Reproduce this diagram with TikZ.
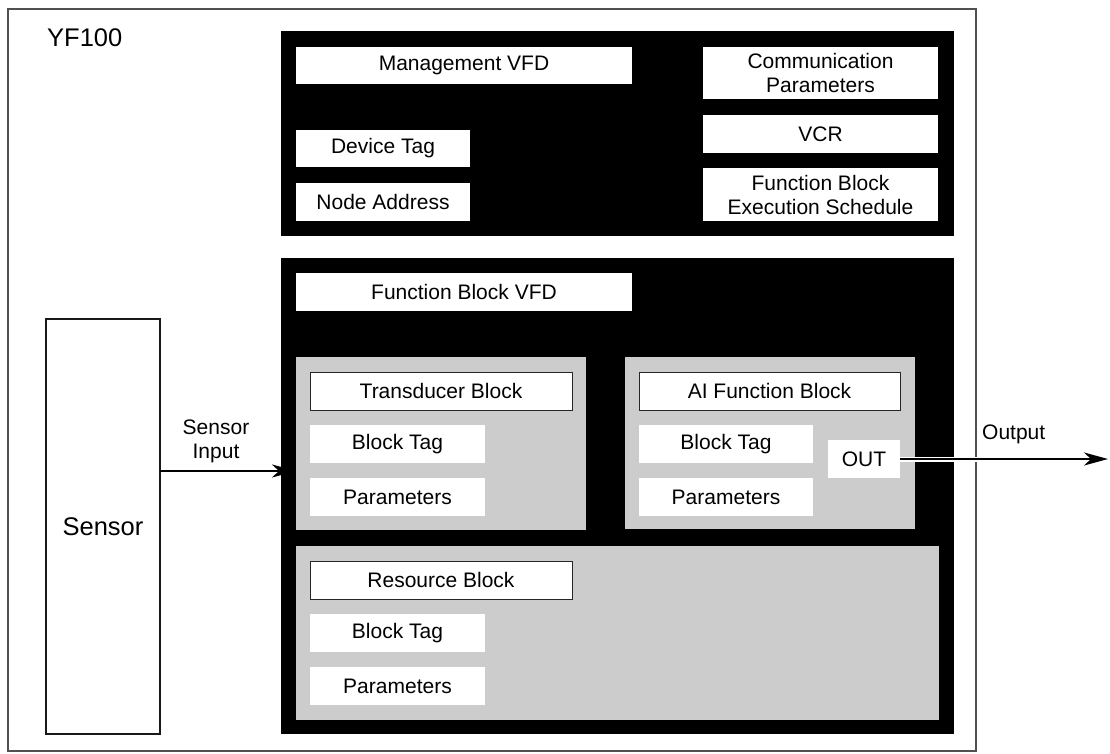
\documentclass[tikz,border=0pt]{standalone}
\usepackage{fontspec}
\setmainfont{Liberation Sans}
\usetikzlibrary{arrows.meta}
\definecolor{panelgrey}{HTML}{CCCCCC}
\definecolor{framegrey}{HTML}{505050}
\tikzset{
  base/.style={rectangle, inner sep=0pt, outer sep=0pt, anchor=north west,
    font=\fontsize{21}{24}\selectfont, align=center},
  blackpanel/.style={base, fill=black},
  greypanel/.style={base, fill=panelgrey},
  field/.style={base, fill=white},
  titlebox/.style={base, fill=white, draw=black!85, line width=1pt},
  flow/.style={line width=2pt, -{Stealth[length=24pt, width=13pt, inset=7pt]}},
}
\begin{document}
\begin{tikzpicture}[x=1pt, y=-1pt]
\useasboundingbox (0,0) rectangle (1110,753);

% device enclosure
\node[base, draw=framegrey, line width=1.5pt, minimum width=968pt, minimum height=742pt] (device) at (8,9) {};
\node[anchor=base west, inner sep=0pt, font=\fontsize{25.5}{28}\selectfont] (devname) at (47,46) {YF100};

% management VFD panel
\node[blackpanel, minimum width=673pt, minimum height=205pt] (mgmt) at (281,31) {};
\node[field, minimum width=336pt, minimum height=37pt] (mvfd) at (296,47) {Management VFD};
\node[field, minimum width=174pt, minimum height=37pt] (devtag) at (296,130) {Device Tag};
\node[field, minimum width=174pt, minimum height=38pt] (nodeaddr) at (296,183) {Node Address};
\node[field, minimum width=235pt, minimum height=52pt] (comm) at (703,47) {Communication\\Parameters};
\node[field, minimum width=235pt, minimum height=38pt] (vcr) at (703,115) {VCR};
\node[field, minimum width=235pt, minimum height=53pt] (sched) at (703,168) {Function Block\\Execution Schedule};

% function block VFD panel
\node[blackpanel, minimum width=673pt, minimum height=476pt] (fbpanel) at (281,258) {};
\node[field, minimum width=336pt, minimum height=38pt] (fbvfd) at (296,273) {Function Block VFD};

% transducer block
\node[greypanel, minimum width=290pt, minimum height=173pt] (trans) at (296,357) {};
\node[titlebox, minimum width=262pt, minimum height=38pt] (transtitle) at (310,372) {Transducer Block};
\node[field, minimum width=175pt, minimum height=38pt] (transtag) at (310,425) {Block Tag};
\node[field, minimum width=175pt, minimum height=38pt] (transpar) at (310,478) {Parameters};

% AI function block
\node[greypanel, minimum width=290pt, minimum height=172pt] (ai) at (625,357) {};
\node[titlebox, minimum width=261pt, minimum height=38pt] (aititle) at (639,372) {AI Function Block};
\node[field, minimum width=174pt, minimum height=38pt] (aitag) at (639,425) {Block Tag};
\node[field, minimum width=174pt, minimum height=38pt] (aipar) at (639,478) {Parameters};
\node[field, minimum width=72pt, minimum height=38pt] (out) at (828,440) {OUT};

% resource block
\node[greypanel, minimum width=643pt, minimum height=174pt] (res) at (296,546) {};
\node[titlebox, minimum width=262pt, minimum height=38pt] (restitle) at (310,561) {Resource Block};
\node[field, minimum width=175pt, minimum height=38pt] (restag) at (310,614) {Block Tag};
\node[field, minimum width=175pt, minimum height=38pt] (respar) at (310,667) {Parameters};

% sensor
\node[base, fill=white, draw=black!90, line width=1.5pt, minimum width=114pt, minimum height=415pt,
  font=\fontsize{25.5}{28}\selectfont] (sensor) at (46,319) {Sensor};

% signal lines
\coordinate (inlevel) at (0,471);
\coordinate (outend) at (1108,459);
\draw[flow] (sensor.east |- inlevel) -- (trans.west |- inlevel);
\node[anchor=center, inner sep=0pt, align=center, font=\fontsize{21}{24}\selectfont] (inlabel) at (216,441) {Sensor\\Input};

\draw[flow, preaction={draw=white, line width=5pt, -}] (out.east) -- (outend);
\node[anchor=base west, inner sep=0pt, font=\fontsize{21}{24}\selectfont] (outlabel) at (982,439) {Output};
\end{tikzpicture}
\end{document}
